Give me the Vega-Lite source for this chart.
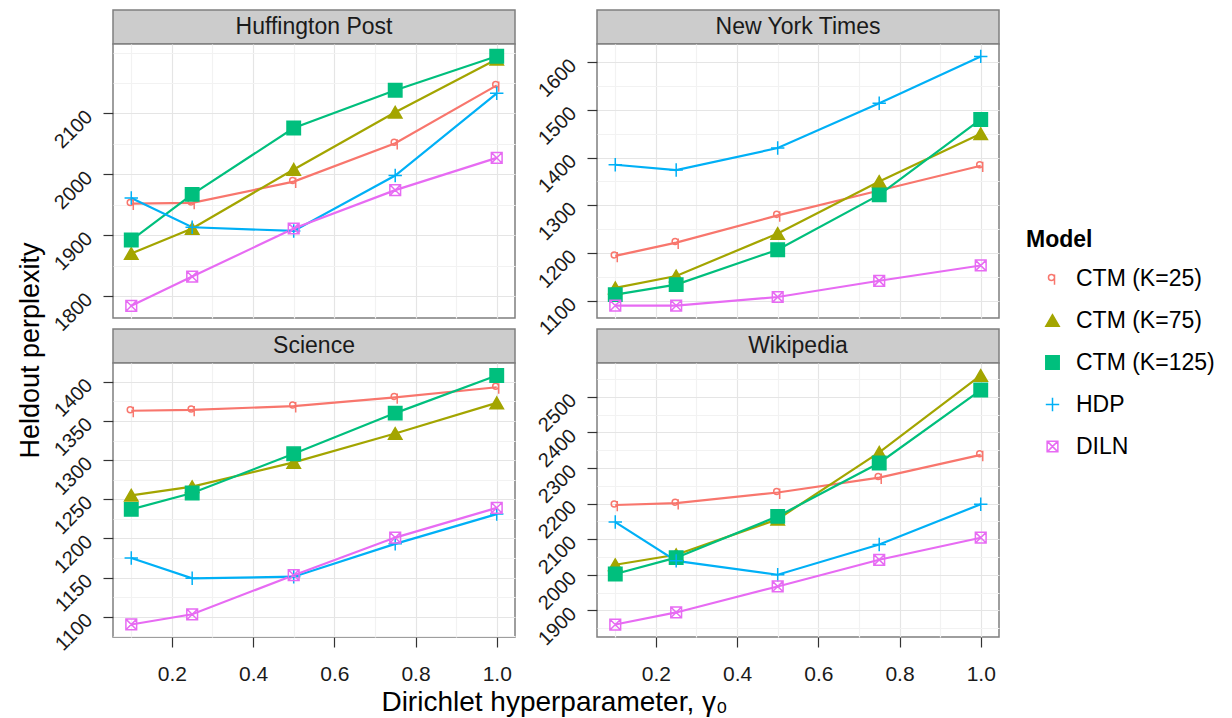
{
"$schema": "https://vega.github.io/schema/vega-lite/v6.json",
"background": "white",
"padding": {"left": 15, "top": 9, "right": 0, "bottom": 0},
"datasets": {"perp": [
{"panel":"Huffington Post","model":"CTM (K=25)","gamma":0.1,"perplexity":1952},
{"panel":"Huffington Post","model":"CTM (K=25)","gamma":0.25,"perplexity":1953},
{"panel":"Huffington Post","model":"CTM (K=25)","gamma":0.5,"perplexity":1988},
{"panel":"Huffington Post","model":"CTM (K=25)","gamma":0.75,"perplexity":2051},
{"panel":"Huffington Post","model":"CTM (K=25)","gamma":1.0,"perplexity":2146},
{"panel":"Huffington Post","model":"CTM (K=75)","gamma":0.1,"perplexity":1870},
{"panel":"Huffington Post","model":"CTM (K=75)","gamma":0.25,"perplexity":1911},
{"panel":"Huffington Post","model":"CTM (K=75)","gamma":0.5,"perplexity":2008},
{"panel":"Huffington Post","model":"CTM (K=75)","gamma":0.75,"perplexity":2102},
{"panel":"Huffington Post","model":"CTM (K=75)","gamma":1.0,"perplexity":2189},
{"panel":"Huffington Post","model":"CTM (K=125)","gamma":0.1,"perplexity":1892},
{"panel":"Huffington Post","model":"CTM (K=125)","gamma":0.25,"perplexity":1967},
{"panel":"Huffington Post","model":"CTM (K=125)","gamma":0.5,"perplexity":2076},
{"panel":"Huffington Post","model":"CTM (K=125)","gamma":0.75,"perplexity":2138},
{"panel":"Huffington Post","model":"CTM (K=125)","gamma":1.0,"perplexity":2194},
{"panel":"Huffington Post","model":"HDP","gamma":0.1,"perplexity":1961},
{"panel":"Huffington Post","model":"HDP","gamma":0.25,"perplexity":1913},
{"panel":"Huffington Post","model":"HDP","gamma":0.5,"perplexity":1907},
{"panel":"Huffington Post","model":"HDP","gamma":0.75,"perplexity":1998},
{"panel":"Huffington Post","model":"HDP","gamma":1.0,"perplexity":2133},
{"panel":"Huffington Post","model":"DILN","gamma":0.1,"perplexity":1784},
{"panel":"Huffington Post","model":"DILN","gamma":0.25,"perplexity":1832},
{"panel":"Huffington Post","model":"DILN","gamma":0.5,"perplexity":1911},
{"panel":"Huffington Post","model":"DILN","gamma":0.75,"perplexity":1974},
{"panel":"Huffington Post","model":"DILN","gamma":1.0,"perplexity":2027},
{"panel":"New York Times","model":"CTM (K=25)","gamma":0.1,"perplexity":1194},
{"panel":"New York Times","model":"CTM (K=25)","gamma":0.25,"perplexity":1222},
{"panel":"New York Times","model":"CTM (K=25)","gamma":0.5,"perplexity":1279},
{"panel":"New York Times","model":"CTM (K=25)","gamma":0.75,"perplexity":1331},
{"panel":"New York Times","model":"CTM (K=25)","gamma":1.0,"perplexity":1383},
{"panel":"New York Times","model":"CTM (K=75)","gamma":0.1,"perplexity":1127},
{"panel":"New York Times","model":"CTM (K=75)","gamma":0.25,"perplexity":1152},
{"panel":"New York Times","model":"CTM (K=75)","gamma":0.5,"perplexity":1241},
{"panel":"New York Times","model":"CTM (K=75)","gamma":0.75,"perplexity":1350},
{"panel":"New York Times","model":"CTM (K=75)","gamma":1.0,"perplexity":1450},
{"panel":"New York Times","model":"CTM (K=125)","gamma":0.1,"perplexity":1113},
{"panel":"New York Times","model":"CTM (K=125)","gamma":0.25,"perplexity":1134},
{"panel":"New York Times","model":"CTM (K=125)","gamma":0.5,"perplexity":1207},
{"panel":"New York Times","model":"CTM (K=125)","gamma":0.75,"perplexity":1322},
{"panel":"New York Times","model":"CTM (K=125)","gamma":1.0,"perplexity":1480},
{"panel":"New York Times","model":"HDP","gamma":0.1,"perplexity":1385},
{"panel":"New York Times","model":"HDP","gamma":0.25,"perplexity":1374},
{"panel":"New York Times","model":"HDP","gamma":0.5,"perplexity":1420},
{"panel":"New York Times","model":"HDP","gamma":0.75,"perplexity":1514},
{"panel":"New York Times","model":"HDP","gamma":1.0,"perplexity":1612},
{"panel":"New York Times","model":"DILN","gamma":0.1,"perplexity":1090},
{"panel":"New York Times","model":"DILN","gamma":0.25,"perplexity":1090},
{"panel":"New York Times","model":"DILN","gamma":0.5,"perplexity":1108},
{"panel":"New York Times","model":"DILN","gamma":0.75,"perplexity":1142},
{"panel":"New York Times","model":"DILN","gamma":1.0,"perplexity":1174},
{"panel":"Science","model":"CTM (K=25)","gamma":0.1,"perplexity":1363},
{"panel":"Science","model":"CTM (K=25)","gamma":0.25,"perplexity":1364},
{"panel":"Science","model":"CTM (K=25)","gamma":0.5,"perplexity":1369},
{"panel":"Science","model":"CTM (K=25)","gamma":0.75,"perplexity":1380},
{"panel":"Science","model":"CTM (K=25)","gamma":1.0,"perplexity":1393},
{"panel":"Science","model":"CTM (K=75)","gamma":0.1,"perplexity":1255},
{"panel":"Science","model":"CTM (K=75)","gamma":0.25,"perplexity":1266},
{"panel":"Science","model":"CTM (K=75)","gamma":0.5,"perplexity":1297},
{"panel":"Science","model":"CTM (K=75)","gamma":0.75,"perplexity":1334},
{"panel":"Science","model":"CTM (K=75)","gamma":1.0,"perplexity":1373},
{"panel":"Science","model":"CTM (K=125)","gamma":0.1,"perplexity":1237},
{"panel":"Science","model":"CTM (K=125)","gamma":0.25,"perplexity":1258},
{"panel":"Science","model":"CTM (K=125)","gamma":0.5,"perplexity":1308},
{"panel":"Science","model":"CTM (K=125)","gamma":0.75,"perplexity":1360},
{"panel":"Science","model":"CTM (K=125)","gamma":1.0,"perplexity":1408},
{"panel":"Science","model":"HDP","gamma":0.1,"perplexity":1175},
{"panel":"Science","model":"HDP","gamma":0.25,"perplexity":1149},
{"panel":"Science","model":"HDP","gamma":0.5,"perplexity":1151},
{"panel":"Science","model":"HDP","gamma":0.75,"perplexity":1193},
{"panel":"Science","model":"HDP","gamma":1.0,"perplexity":1231},
{"panel":"Science","model":"DILN","gamma":0.1,"perplexity":1090},
{"panel":"Science","model":"DILN","gamma":0.25,"perplexity":1103},
{"panel":"Science","model":"DILN","gamma":0.5,"perplexity":1153},
{"panel":"Science","model":"DILN","gamma":0.75,"perplexity":1201},
{"panel":"Science","model":"DILN","gamma":1.0,"perplexity":1239},
{"panel":"Wikipedia","model":"CTM (K=25)","gamma":0.1,"perplexity":2196},
{"panel":"Wikipedia","model":"CTM (K=25)","gamma":0.25,"perplexity":2201},
{"panel":"Wikipedia","model":"CTM (K=25)","gamma":0.5,"perplexity":2231},
{"panel":"Wikipedia","model":"CTM (K=25)","gamma":0.75,"perplexity":2273},
{"panel":"Wikipedia","model":"CTM (K=25)","gamma":1.0,"perplexity":2337},
{"panel":"Wikipedia","model":"CTM (K=75)","gamma":0.1,"perplexity":2028},
{"panel":"Wikipedia","model":"CTM (K=75)","gamma":0.25,"perplexity":2056},
{"panel":"Wikipedia","model":"CTM (K=75)","gamma":0.5,"perplexity":2156},
{"panel":"Wikipedia","model":"CTM (K=75)","gamma":0.75,"perplexity":2344},
{"panel":"Wikipedia","model":"CTM (K=75)","gamma":1.0,"perplexity":2560},
{"panel":"Wikipedia","model":"CTM (K=125)","gamma":0.1,"perplexity":2002},
{"panel":"Wikipedia","model":"CTM (K=125)","gamma":0.25,"perplexity":2048},
{"panel":"Wikipedia","model":"CTM (K=125)","gamma":0.5,"perplexity":2164},
{"panel":"Wikipedia","model":"CTM (K=125)","gamma":0.75,"perplexity":2314},
{"panel":"Wikipedia","model":"CTM (K=125)","gamma":1.0,"perplexity":2519},
{"panel":"Wikipedia","model":"HDP","gamma":0.1,"perplexity":2148},
{"panel":"Wikipedia","model":"HDP","gamma":0.25,"perplexity":2039},
{"panel":"Wikipedia","model":"HDP","gamma":0.5,"perplexity":2000},
{"panel":"Wikipedia","model":"HDP","gamma":0.75,"perplexity":2085},
{"panel":"Wikipedia","model":"HDP","gamma":1.0,"perplexity":2198},
{"panel":"Wikipedia","model":"DILN","gamma":0.1,"perplexity":1860},
{"panel":"Wikipedia","model":"DILN","gamma":0.25,"perplexity":1894},
{"panel":"Wikipedia","model":"DILN","gamma":0.5,"perplexity":1967},
{"panel":"Wikipedia","model":"DILN","gamma":0.75,"perplexity":2042},
{"panel":"Wikipedia","model":"DILN","gamma":1.0,"perplexity":2104}
]},
"config": {
  "font": "Liberation Sans",
  "axis": {"domain": false, "tickColor": "#333333", "tickSize": 10, "tickWidth": 1.2, "labelFontSize": 20, "labelColor": "#1A1A1A", "titleFontSize": 27, "titleFontWeight": "normal", "titleColor": "#000000", "gridWidth": 1.2, "labelOverlap": false, "labelFlush": false},
  "axisX": {"labelFontSize": 21},
  "legend": {"titleFontSize": 23, "titleFontWeight": "bold", "titleColor": "#000000", "labelFontSize": 23, "labelColor": "#000000", "rowPadding": 18, "symbolSize": 180, "symbolStrokeWidth": 1.5, "symbolOffset": 15, "labelOffset": 12, "titlePadding": 15, "padding": 0}
},
"bounds": "flush",
"columns": 2,
"spacing": {"row": 0, "column": 82},
"concat": [
   {"width": 402, "height": 34, "view": {"fill": "#CCCCCC", "stroke": "#7F7F7F", "strokeWidth": 1.5},
    "data": {"values": [{"panel": "Huffington Post"}]},
    "mark": {"type": "text", "fontSize": 23, "color": "#1A1A1A", "align": "center", "baseline": "middle"},
    "encoding": {"text": {"field": "panel", "type": "nominal"}}},
   {"width": 402, "height": 34, "view": {"fill": "#CCCCCC", "stroke": "#7F7F7F", "strokeWidth": 1.5},
    "data": {"values": [{"panel": "New York Times"}]},
    "mark": {"type": "text", "fontSize": 23, "color": "#1A1A1A", "align": "center", "baseline": "middle"},
    "encoding": {"text": {"field": "panel", "type": "nominal"}}},
   {"width": 402, "height": 274, "view": {"fill": "white", "stroke": "#7F7F7F", "strokeWidth": 1.5},
    "data": {"name": "perp"},
    "transform": [{"filter": "datum.panel === 'Huffington Post'"}],
    "encoding": {
     "x": {"field": "gamma", "type": "quantitative", "scale": {"domain": [0.055, 1.045], "nice": false, "zero": false},
       "axis": {"values": [0.1,0.2,0.3,0.4,0.5,0.6,0.7,0.8,0.9,1.0], "labels": false, "ticks": false, "title": null,
         "gridColor": {"condition": {"test": "round(datum.value*10) % 2 == 0", "value": "#E5E5E5"}, "value": "#F2F2F2"}}},
     "y": {"field": "perplexity", "type": "quantitative", "scale": {"domain": [1764, 2214], "nice": false, "zero": false},
       "axis": {"values": [1800,1850,1900,1950,2000,2050,2100,2150,2200], "format": "d",
         "labelExpr": "(datum.value % 100 == 0 && datum.value <= 2100) ? datum.label : ''",
         "gridColor": {"condition": {"test": "datum.value % 100 == 0 && datum.value <= 2100", "value": "#E5E5E5"}, "value": "#F2F2F2"},
         "tickOpacity": {"condition": {"test": "datum.value % 100 == 0 && datum.value <= 2100", "value": 1}, "value": 0},
         "labelAngle": -45, "labelAlign": "right", "labelBaseline": "middle", "labelPadding": 14,
         "title": "Heldout perplexity", "titleX": -83, "titleY": 306, "titleAngle": -90, "titleAlign": "center", "titleBaseline": "middle"}},
     "stroke": {"field": "model", "type": "nominal", "scale": {"domain": ["CTM (K=25)","CTM (K=75)","CTM (K=125)","HDP","DILN"], "range": ["#F8766D","#A3A500","#00BF7D","#00B0F6","#E76BF3"]}, "legend": {"title": "Model", "orient": "none", "legendX": 913, "legendY": 219}}
    },
    "layer": [
     {"mark": {"type": "line", "strokeWidth": 2.2}},
     {"mark": {"type": "point", "size": 180, "strokeWidth": 1.5, "opacity": 1},
      "encoding": {
       "shape": {"field": "model", "type": "nominal", "scale": {"domain": ["CTM (K=25)","CTM (K=75)","CTM (K=125)","HDP","DILN"], "range": ["M0.3,-0.15 A0.45,0.45 0 1,1 -0.6,-0.15 A0.45,0.45 0 1,1 0.3,-0.15 M0.3,-0.6 L0.3,0.95","triangle-up","square","M-1,0 L1,0 M0,-1 L0,1","M-0.8,-0.8 L0.8,-0.8 L0.8,0.8 L-0.8,0.8 Z M-0.8,-0.8 L0.8,0.8 M0.8,-0.8 L-0.8,0.8"]}, "legend": {"title": "Model", "orient": "none", "legendX": 913, "legendY": 219}},
       "fill": {"field": "model", "type": "nominal", "scale": {"domain": ["CTM (K=25)","CTM (K=75)","CTM (K=125)","HDP","DILN"], "range": ["transparent","#A3A500","#00BF7D","transparent","transparent"]}, "legend": {"title": "Model", "orient": "none", "legendX": 913, "legendY": 219}}
      }}
    ]},
   {"width": 402, "height": 274, "view": {"fill": "white", "stroke": "#7F7F7F", "strokeWidth": 1.5},
    "data": {"name": "perp"},
    "transform": [{"filter": "datum.panel === 'New York Times'"}],
    "encoding": {
     "x": {"field": "gamma", "type": "quantitative", "scale": {"domain": [0.055, 1.045], "nice": false, "zero": false},
       "axis": {"values": [0.1,0.2,0.3,0.4,0.5,0.6,0.7,0.8,0.9,1.0], "labels": false, "ticks": false, "title": null,
         "gridColor": {"condition": {"test": "round(datum.value*10) % 2 == 0", "value": "#E5E5E5"}, "value": "#F2F2F2"}}},
     "y": {"field": "perplexity", "type": "quantitative", "scale": {"domain": [1064, 1638], "nice": false, "zero": false},
       "axis": {"values": [1100,1150,1200,1250,1300,1350,1400,1450,1500,1550,1600], "format": "d",
         "labelExpr": "(datum.value % 100 == 0) ? datum.label : ''",
         "gridColor": {"condition": {"test": "datum.value % 100 == 0", "value": "#E5E5E5"}, "value": "#F2F2F2"},
         "tickOpacity": {"condition": {"test": "datum.value % 100 == 0", "value": 1}, "value": 0},
         "labelAngle": -45, "labelAlign": "right", "labelBaseline": "middle", "labelPadding": 14, "title": null}},
     "stroke": {"field": "model", "type": "nominal", "scale": {"domain": ["CTM (K=25)","CTM (K=75)","CTM (K=125)","HDP","DILN"], "range": ["#F8766D","#A3A500","#00BF7D","#00B0F6","#E76BF3"]}, "legend": {"title": "Model", "orient": "none", "legendX": 913, "legendY": 219}}
    },
    "layer": [
     {"mark": {"type": "line", "strokeWidth": 2.2}},
     {"mark": {"type": "point", "size": 180, "strokeWidth": 1.5, "opacity": 1},
      "encoding": {
       "shape": {"field": "model", "type": "nominal", "scale": {"domain": ["CTM (K=25)","CTM (K=75)","CTM (K=125)","HDP","DILN"], "range": ["M0.3,-0.15 A0.45,0.45 0 1,1 -0.6,-0.15 A0.45,0.45 0 1,1 0.3,-0.15 M0.3,-0.6 L0.3,0.95","triangle-up","square","M-1,0 L1,0 M0,-1 L0,1","M-0.8,-0.8 L0.8,-0.8 L0.8,0.8 L-0.8,0.8 Z M-0.8,-0.8 L0.8,0.8 M0.8,-0.8 L-0.8,0.8"]}, "legend": {"title": "Model", "orient": "none", "legendX": 913, "legendY": 219}},
       "fill": {"field": "model", "type": "nominal", "scale": {"domain": ["CTM (K=25)","CTM (K=75)","CTM (K=125)","HDP","DILN"], "range": ["transparent","#A3A500","#00BF7D","transparent","transparent"]}, "legend": {"title": "Model", "orient": "none", "legendX": 913, "legendY": 219}}
      }}
    ]},
   {"width": 402, "height": 11, "view": {"stroke": null, "fill": null}, "data": {"values": []}, "mark": "point"},
   {"width": 402, "height": 11, "view": {"stroke": null, "fill": null}, "data": {"values": []}, "mark": "point"},
   {"width": 402, "height": 34, "view": {"fill": "#CCCCCC", "stroke": "#7F7F7F", "strokeWidth": 1.5},
    "data": {"values": [{"panel": "Science"}]},
    "mark": {"type": "text", "fontSize": 23, "color": "#1A1A1A", "align": "center", "baseline": "middle"},
    "encoding": {"text": {"field": "panel", "type": "nominal"}}},
   {"width": 402, "height": 34, "view": {"fill": "#CCCCCC", "stroke": "#7F7F7F", "strokeWidth": 1.5},
    "data": {"values": [{"panel": "Wikipedia"}]},
    "mark": {"type": "text", "fontSize": 23, "color": "#1A1A1A", "align": "center", "baseline": "middle"},
    "encoding": {"text": {"field": "panel", "type": "nominal"}}},
   {"width": 402, "height": 274, "view": {"fill": "white", "stroke": "#7F7F7F", "strokeWidth": 1.5},
    "data": {"name": "perp"},
    "transform": [{"filter": "datum.panel === 'Science'"}],
    "encoding": {
     "x": {"field": "gamma", "type": "quantitative", "scale": {"domain": [0.055, 1.045], "nice": false, "zero": false},
       "axis": {"values": [0.1,0.2,0.3,0.4,0.5,0.6,0.7,0.8,0.9,1.0], "format": ".1f",
         "labelExpr": "round(datum.value*10) % 2 == 1 ? '' : datum.label",
         "gridColor": {"condition": {"test": "round(datum.value*10) % 2 == 0", "value": "#E5E5E5"}, "value": "#F2F2F2"},
         "tickOpacity": {"condition": {"test": "round(datum.value*10) % 2 == 0", "value": 1}, "value": 0},
         "labelPadding": 16, "title": "Dirichlet hyperparameter, γ₀", "titleFontSize": 28, "titleX": 441, "titlePadding": 4}},
     "y": {"field": "perplexity", "type": "quantitative", "scale": {"domain": [1074, 1424], "nice": false, "zero": false},
       "axis": {"values": [1075,1100,1125,1150,1175,1200,1225,1250,1275,1300,1325,1350,1375,1400], "format": "d",
         "labelExpr": "(datum.value % 50 == 0) ? datum.label : ''",
         "gridColor": {"condition": {"test": "datum.value % 50 == 0", "value": "#E5E5E5"}, "value": "#F2F2F2"},
         "tickOpacity": {"condition": {"test": "datum.value % 50 == 0", "value": 1}, "value": 0},
         "labelAngle": -45, "labelAlign": "right", "labelBaseline": "middle", "labelPadding": 14, "title": null}},
     "stroke": {"field": "model", "type": "nominal", "scale": {"domain": ["CTM (K=25)","CTM (K=75)","CTM (K=125)","HDP","DILN"], "range": ["#F8766D","#A3A500","#00BF7D","#00B0F6","#E76BF3"]}, "legend": {"title": "Model", "orient": "none", "legendX": 913, "legendY": 219}}
    },
    "layer": [
     {"mark": {"type": "line", "strokeWidth": 2.2}},
     {"mark": {"type": "point", "size": 180, "strokeWidth": 1.5, "opacity": 1},
      "encoding": {
       "shape": {"field": "model", "type": "nominal", "scale": {"domain": ["CTM (K=25)","CTM (K=75)","CTM (K=125)","HDP","DILN"], "range": ["M0.3,-0.15 A0.45,0.45 0 1,1 -0.6,-0.15 A0.45,0.45 0 1,1 0.3,-0.15 M0.3,-0.6 L0.3,0.95","triangle-up","square","M-1,0 L1,0 M0,-1 L0,1","M-0.8,-0.8 L0.8,-0.8 L0.8,0.8 L-0.8,0.8 Z M-0.8,-0.8 L0.8,0.8 M0.8,-0.8 L-0.8,0.8"]}, "legend": {"title": "Model", "orient": "none", "legendX": 913, "legendY": 219}},
       "fill": {"field": "model", "type": "nominal", "scale": {"domain": ["CTM (K=25)","CTM (K=75)","CTM (K=125)","HDP","DILN"], "range": ["transparent","#A3A500","#00BF7D","transparent","transparent"]}, "legend": {"title": "Model", "orient": "none", "legendX": 913, "legendY": 219}}
      }}
    ]},
   {"width": 402, "height": 274, "view": {"fill": "white", "stroke": "#7F7F7F", "strokeWidth": 1.5},
    "data": {"name": "perp"},
    "transform": [{"filter": "datum.panel === 'Wikipedia'"}],
    "encoding": {
     "x": {"field": "gamma", "type": "quantitative", "scale": {"domain": [0.055, 1.045], "nice": false, "zero": false},
       "axis": {"values": [0.1,0.2,0.3,0.4,0.5,0.6,0.7,0.8,0.9,1.0], "format": ".1f",
         "labelExpr": "round(datum.value*10) % 2 == 1 ? '' : datum.label",
         "gridColor": {"condition": {"test": "round(datum.value*10) % 2 == 0", "value": "#E5E5E5"}, "value": "#F2F2F2"},
         "tickOpacity": {"condition": {"test": "round(datum.value*10) % 2 == 0", "value": 1}, "value": 0},
         "labelPadding": 16, "title": null}},
     "y": {"field": "perplexity", "type": "quantitative", "scale": {"domain": [1825, 2595], "nice": false, "zero": false},
       "axis": {"values": [1850,1900,1950,2000,2050,2100,2150,2200,2250,2300,2350,2400,2450,2500,2550], "format": "d",
         "labelExpr": "(datum.value % 100 == 0) ? datum.label : ''",
         "gridColor": {"condition": {"test": "datum.value % 100 == 0", "value": "#E5E5E5"}, "value": "#F2F2F2"},
         "tickOpacity": {"condition": {"test": "datum.value % 100 == 0", "value": 1}, "value": 0},
         "labelAngle": -45, "labelAlign": "right", "labelBaseline": "middle", "labelPadding": 14, "title": null}},
     "stroke": {"field": "model", "type": "nominal", "scale": {"domain": ["CTM (K=25)","CTM (K=75)","CTM (K=125)","HDP","DILN"], "range": ["#F8766D","#A3A500","#00BF7D","#00B0F6","#E76BF3"]}, "legend": {"title": "Model", "orient": "none", "legendX": 913, "legendY": 219}}
    },
    "layer": [
     {"mark": {"type": "line", "strokeWidth": 2.2}},
     {"mark": {"type": "point", "size": 180, "strokeWidth": 1.5, "opacity": 1},
      "encoding": {
       "shape": {"field": "model", "type": "nominal", "scale": {"domain": ["CTM (K=25)","CTM (K=75)","CTM (K=125)","HDP","DILN"], "range": ["M0.3,-0.15 A0.45,0.45 0 1,1 -0.6,-0.15 A0.45,0.45 0 1,1 0.3,-0.15 M0.3,-0.6 L0.3,0.95","triangle-up","square","M-1,0 L1,0 M0,-1 L0,1","M-0.8,-0.8 L0.8,-0.8 L0.8,0.8 L-0.8,0.8 Z M-0.8,-0.8 L0.8,0.8 M0.8,-0.8 L-0.8,0.8"]}, "legend": {"title": "Model", "orient": "none", "legendX": 913, "legendY": 219}},
       "fill": {"field": "model", "type": "nominal", "scale": {"domain": ["CTM (K=25)","CTM (K=75)","CTM (K=125)","HDP","DILN"], "range": ["transparent","#A3A500","#00BF7D","transparent","transparent"]}, "legend": {"title": "Model", "orient": "none", "legendX": 913, "legendY": 219}}
      }}
    ]}
]
}
